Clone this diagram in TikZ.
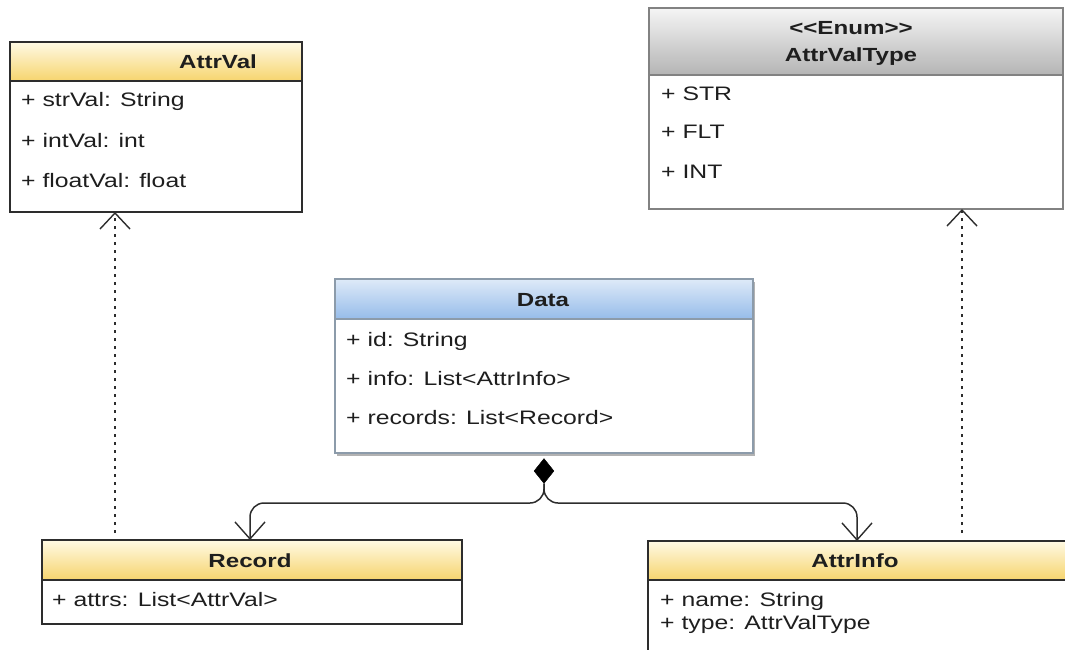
\documentclass[tikz,border=0pt]{standalone}
\usepackage{fontspec}
\setmainfont{Liberation Sans}[FakeStretch=1.27]
\usetikzlibrary{arrows.meta,shapes.geometric,shadows}

\definecolor{hdrYtop}{RGB}{255,250,228}
\definecolor{hdrYbot}{RGB}{246,212,110}
\definecolor{hdrGtop}{RGB}{245,245,245}
\definecolor{hdrGbot}{RGB}{180,180,180}
\definecolor{hdrBtop}{RGB}{222,234,248}
\definecolor{hdrBbot}{RGB}{150,188,234}
\definecolor{edgeDark}{RGB}{45,45,45}
\definecolor{edgeGray}{RGB}{130,130,130}
\definecolor{edgeBlue}{RGB}{140,155,170}
\definecolor{ink}{RGB}{30,30,30}

\begin{document}
\begin{tikzpicture}[x=1pt,y=-1pt,
  classbox/.style={draw=#1, line width=1.4pt, fill=white, inner sep=0pt, outer sep=0pt, anchor=north west},
  header/.style={draw=#1, line width=1.4pt, inner sep=0pt, outer sep=0pt, anchor=north west},
  yhdr/.style={top color=hdrYtop, bottom color=hdrYbot},
  ghdr/.style={top color=hdrGtop, bottom color=hdrGbot},
  bhdr/.style={top color=hdrBtop, bottom color=hdrBbot},
  title/.style={font=\fontsize{19}{21}\selectfont\bfseries, text=ink, anchor=base, inner sep=0pt},
  field/.style={font=\fontsize{19.5}{21}\selectfont, text=ink, anchor=base west, inner sep=0pt},
  assoc/.style={draw=edgeDark, line width=1.5pt, rounded corners=14pt,
    -{Straight Barb[length=17pt, width=30pt, line width=1.4pt]}},
  realize/.style={draw=edgeDark, line width=2.6pt, dash pattern=on 3.5pt off 4.5pt,
    -{Straight Barb[length=16pt, width=30pt, line width=1.4pt]}},
]
\useasboundingbox (0,0) rectangle (1065,650);

% ---- AttrVal
\node[classbox=edgeDark, minimum width=292pt, minimum height=170pt] (attrval) at (10,42) {};
\node[header=edgeDark, yhdr, minimum width=292pt, minimum height=39pt] (attrval-h) at (attrval.north west) {};
\node[title] (attrval-t) at (218,69) {AttrVal};
\node[field] (attrval-f1) at (21,107) {+ strVal: String};
\node[field] (attrval-f2) at (21,147) {+ intVal: int};
\node[field] (attrval-f3) at (21,187) {+ floatVal: float};

% ---- AttrValType (enumeration)
\node[classbox=edgeGray, minimum width=414pt, minimum height=201pt] (attrvaltype) at (649,8) {};
\node[header=edgeGray, ghdr, minimum width=414pt, minimum height=67pt] (attrvaltype-h) at (attrvaltype.north west) {};
\node[title] (attrvaltype-s) at (851,35) {<\kern0pt<Enum>\kern0pt>};
\node[title] (attrvaltype-t) at (851,62) {AttrValType};
\node[field] (attrvaltype-f1) at (661,101) {+ STR};
\node[field] (attrvaltype-f2) at (661,139) {+ FLT};
\node[field] (attrvaltype-f3) at (661,178) {+ INT};

% ---- Data
\node[classbox=edgeBlue, minimum width=418pt, minimum height=174pt,
      drop shadow={shadow xshift=2pt, shadow yshift=-3pt, fill=black, opacity=0.3}] (data) at (335,279) {};
\node[header=edgeBlue, bhdr, minimum width=418pt, minimum height=40pt] (data-h) at (data.north west) {};
\node[title] (data-t) at (543,306) {Data};
\node[field] (data-f1) at (346,346) {+ id: String};
\node[field] (data-f2) at (346,385) {+ info: List<AttrInfo>};
\node[field] (data-f3) at (346,424) {+ records: List<Record>};

% ---- Record
\node[classbox=edgeDark, minimum width=420pt, minimum height=84pt] (record) at (42,540) {};
\node[header=edgeDark, yhdr, minimum width=420pt, minimum height=40pt] (record-h) at (record.north west) {};
\node[title] (record-t) at (250,567) {Record};
\node[field] (record-f1) at (52,606) {+ attrs: List<AttrVal>};

% ---- AttrInfo
\node[classbox=edgeDark, minimum width=430pt, minimum height=130pt] (attrinfo) at (648,541) {};
\node[header=edgeDark, yhdr, minimum width=430pt, minimum height=39pt] (attrinfo-h) at (attrinfo.north west) {};
\node[title] (attrinfo-t) at (855,567) {AttrInfo};
\node[field] (attrinfo-f1) at (660,606) {+ name: String};
\node[field] (attrinfo-f2) at (660,629) {+ type: AttrValType};

% ---- composition: Data owns its records and attribute infos
\node[diamond, fill=black, draw=black, inner sep=0pt, minimum width=20pt, minimum height=25pt] (comp) at (544,471) {};
\coordinate (bus) at (544,503);
\coordinate (recin) at (250,540);
\coordinate (infoin) at (857,541);
\draw[assoc] (comp.south) |- (bus -| recin) -- (recin);
\draw[assoc] (comp.south) |- (bus -| infoin) -- (infoin);

% ---- dependencies on the value types
\coordinate (recdep) at (115,533);
\coordinate (infodep) at (962,533);
\draw[realize] (recdep) -- (recdep |- attrval.south);
\draw[realize] (infodep) -- (infodep |- attrvaltype.south);
\end{tikzpicture}
\end{document}
